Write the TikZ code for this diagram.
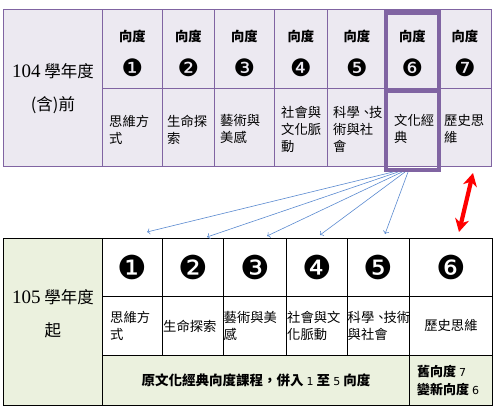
\documentclass[tikz,border=0pt]{standalone}
\usepackage{fontspec}
\setmainfont{Noto Sans CJK TC}
\newfontfamily\dingfont{DejaVu Sans}
\newfontfamily\numfont{Liberation Serif}
\usetikzlibrary{positioning,arrows.meta}

\definecolor{lilacline}{HTML}{8064A2}
\definecolor{lilacfill}{HTML}{ECE9F1}
\definecolor{sagefill}{HTML}{EBF1DE}
\definecolor{linkblue}{HTML}{5A8AD0}

\begin{document}
\begin{tikzpicture}[x=1pt,y=-1pt,
		topcell/.style={draw=lilacline, fill=lilacfill, line width=0.9pt, anchor=north west, inner sep=0pt, minimum height=#1},
		botcell/.style={draw=black, line width=0.9pt, anchor=north west, inner sep=0pt, minimum height=#1},
		celltext/.style={inner sep=0pt, align=left, font=\fontsize{13.3}{17}\selectfont},
		headtext/.style={inner sep=0pt, align=center, font=\fontsize{13.3}{17}\selectfont},
		yeartext/.style={inner sep=0pt, align=center, font=\fontsize{16.5}{33}\selectfont},
		topnum/.style={font=\dingfont\fontsize{24}{24}\selectfont, inner sep=0pt},
		botnum/.style={font=\dingfont\fontsize{33}{33}\selectfont, inner sep=0pt},
		link/.style={->, linkblue, line width=0.6pt},
		]
		\useasboundingbox (0,0) rectangle (497,409);
		
		%Top table
		\node[topcell=157, minimum width=99] (ty)  at (3,9)   {};
		\node[topcell=79, minimum width=60]  (th1) at (102,9) {};
		\node[topcell=79, minimum width=52]  (th2) at (162,9) {};
		\node[topcell=79, minimum width=60]  (th3) at (214,9) {};
		\node[topcell=79, minimum width=53]  (th4) at (274,9) {};
		\node[topcell=79, minimum width=59]  (th5) at (327,9) {};
		\node[topcell=79, minimum width=52]  (th6) at (386,9) {};
		\node[topcell=79, minimum width=53]  (th7) at (438,9) {};
		\node[topcell=78, minimum width=60]  (tb1) at (102,88) {};
		\node[topcell=78, minimum width=52]  (tb2) at (162,88) {};
		\node[topcell=78, minimum width=60]  (tb3) at (214,88) {};
		\node[topcell=78, minimum width=53]  (tb4) at (274,88) {};
		\node[topcell=78, minimum width=59]  (tb5) at (327,88) {};
		\node[topcell=78, minimum width=52]  (tb6) at (386,88) {};
		\node[topcell=78, minimum width=53]  (tb7) at (438,88) {};
		
		\node[yeartext] (tyt) at ([yshift=-1pt]ty.center) {{\numfont\fontsize{19}{33}\selectfont 104} 學年度\\(含)前};
		
		%Top heads
		\node[headtext] (tw1) at ([yshift=13pt]th1.center) {\textbf{向度}};
		\node[headtext] (tw2) at ([yshift=13pt]th2.center) {\textbf{向度}};
		\node[headtext] (tw3) at ([yshift=13pt]th3.center) {\textbf{向度}};
		\node[headtext] (tw4) at ([yshift=13pt]th4.center) {\textbf{向度}};
		\node[headtext] (tw5) at ([yshift=13pt]th5.center) {\textbf{向度}};
		\node[headtext] (tw6) at ([yshift=13pt]th6.center) {\textbf{向度}};
		\node[headtext] (tw7) at ([yshift=13pt]th7.center) {\textbf{向度}};
		\node[topnum] (tn1) at ([yshift=-19pt]th1.center) {❶};
		\node[topnum] (tn2) at ([yshift=-19pt]th2.center) {❷};
		\node[topnum] (tn3) at ([yshift=-19pt]th3.center) {❸};
		\node[topnum] (tn4) at ([yshift=-19pt]th4.center) {❹};
		\node[topnum] (tn5) at ([yshift=-19pt]th5.center) {❺};
		\node[topnum] (tn6) at ([yshift=-19pt]th6.center) {❻};
		\node[topnum] (tn7) at ([yshift=-19pt]th7.center) {❼};
		
		%Top names
		\node[celltext, right=7pt of tb1.west, yshift=-2pt] (tt1) {思維方\\式};
		\node[celltext, right=5pt of tb2.west, yshift=-2pt] (tt2) {生命探\\索};
		\node[celltext, right=6pt of tb3.west, yshift=-2pt] (tt3) {藝術與\\美感};
		\node[celltext, right=7pt of tb4.west, yshift=-2pt] (tt4) {社會與\\文化脈\\動};
		\node[celltext, right=6pt of tb5.west, yshift=-2pt] (tt5) {科學、\kern-4pt 技\\術與社\\會};
		\node[celltext, right=8pt of tb6.west, yshift=-1pt] (tt6) {文化經\\典};
		\node[celltext, right=6pt of tb7.west, yshift=-2pt] (tt7) {歷史思\\維};
		
		%Highlight
		\draw[lilacline, line width=4.5pt] ([yshift=-3.5pt]th6.north west) rectangle ([yshift=-3pt]tb6.south east);
		\draw[lilacline, line width=4.5pt] ([yshift=-2.5pt]tb6.north west) -- ([yshift=-2.5pt]tb6.north east);
		
		%Bottom table
		\node[botcell=167, minimum width=99, fill=sagefill] (by) at (3,238) {};
		\node[botcell=58, minimum width=60]  (bh1) at (102,238) {};
		\node[botcell=58, minimum width=61]  (bh2) at (162,238) {};
		\node[botcell=58, minimum width=63]  (bh3) at (223,238) {};
		\node[botcell=58, minimum width=61]  (bh4) at (286,238) {};
		\node[botcell=58, minimum width=62]  (bh5) at (347,238) {};
		\node[botcell=58, minimum width=83]  (bh6) at (409,238) {};
		\node[botcell=59, minimum width=60]  (bb1) at (102,296) {};
		\node[botcell=59, minimum width=61]  (bb2) at (162,296) {};
		\node[botcell=59, minimum width=63]  (bb3) at (223,296) {};
		\node[botcell=59, minimum width=61]  (bb4) at (286,296) {};
		\node[botcell=59, minimum width=62]  (bb5) at (347,296) {};
		\node[botcell=59, minimum width=83]  (bb6) at (409,296) {};
		\node[botcell=50, minimum width=307, fill=sagefill] (bm) at (102,355) {};
		\node[botcell=50, minimum width=83, fill=sagefill]  (bn) at (409,355) {};
		
		\node[yeartext] (byt) at ([yshift=8pt]by.center) {{\numfont\fontsize{19}{33}\selectfont 105} 學年度\\起};
		
		\node[botnum] (bn1) at (bh1.center) {❶};
		\node[botnum] (bn2) at (bh2.center) {❷};
		\node[botnum] (bn3) at (bh3.center) {❸};
		\node[botnum] (bn4) at (bh4.center) {❹};
		\node[botnum] (bn5) at (bh5.center) {❺};
		\node[botnum] (bn6) at (bh6.center) {❻};
		
		\node[celltext, right=8pt of bb1.west] (bt1) {思維方\\式};
		\node[celltext, right=1pt of bb2.west] (bt2) {生命探索};
		\node[celltext, right=0.5pt of bb3.west] (bt3) {藝術與美\\感};
		\node[celltext, right=1pt of bb4.west] (bt4) {社會與文\\化脈動};
		\node[celltext, right=0.5pt of bb5.west] (bt5) {科學、\kern-4pt 技術\\與社會};
		\node[celltext] (bt6) at (bb6.center) {歷史思維};
		
		\node[headtext, font=\fontsize{13.5}{18}\selectfont\bfseries] (bmt) at (bm.center)
			{原文化經典向度課程，併入 {\normalfont\dingfont\fontsize{11}{11}\selectfont 1} 至 {\normalfont\dingfont\fontsize{11}{11}\selectfont 5} 向度};
		\node[celltext, font=\fontsize{13}{18}\selectfont\bfseries, right=8pt of bn.west] (bnt)
			{舊向度 {\normalfont\dingfont\fontsize{11}{11}\selectfont 7}\\變新向度 {\normalfont\dingfont\fontsize{11}{11}\selectfont 6}};
		
		%Arrows
		\coordinate (o1) at (393,172);
		\coordinate (o2) at (398,172);
		\coordinate (o3) at (402,172);
		\coordinate (o4) at (405,172);
		\coordinate (o5) at (408,172);
		\coordinate (e1) at (147,232);
		\coordinate (e2) at (207,237);
		\coordinate (e3) at (267,236);
		\coordinate (e4) at (320,235);
		\coordinate (e5) at (385,234);
		\draw[link] (o1) -- (e1);
		\draw[link] (o2) -- (e2);
		\draw[link] (o3) -- (e3);
		\draw[link] (o4) -- (e4);
		\draw[link] (o5) -- (e5);
		
		\coordinate (r1) at (473,173);
		\coordinate (r2) at (459,232);
		\draw[{Stealth[length=13pt,width=14pt,inset=4pt]}-{Stealth[length=13pt,width=14pt,inset=4pt]}, red, line width=4.2pt] (r1) -- (r2);
\end{tikzpicture}
\end{document}
